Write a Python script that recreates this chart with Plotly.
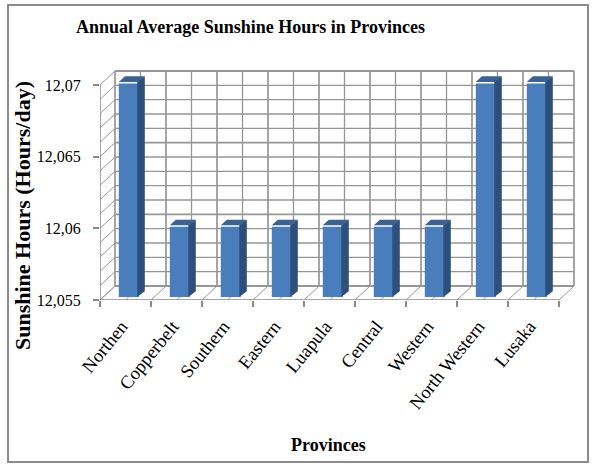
import plotly.graph_objects as go

# ---- data ----
provinces = ["Northen", "Copperbelt", "Southern", "Eastern", "Luapula",
             "Central", "Western", "North Western", "Lusaka"]
sunshine = [12.07, 12.06, 12.06, 12.06, 12.06, 12.06, 12.06, 12.07, 12.07]
y_ticks = [12.055, 12.06, 12.065, 12.07]
y_tick_text = ["12,055", "12,06", "12,065", "12,07"]

# ---- geometry (in axis units) ----
W, H = 594, 465
x_px = [100, 575]          # plot area horizontal extent (px)
y_px = [300, 69]           # plot area vertical extent (px, bottom, top)
px_per_cat = 51.0
px_per_unit = 215 / 0.015
y0 = 12.055
ymax = 12.07
x_lo = -0.5
x_hi = x_lo + (x_px[1] - x_px[0]) / px_per_cat
y_hi = y0 + (y_px[0] - y_px[1]) / px_per_unit
n = len(provinces)
dxu = 15 / px_per_cat      # depth offset to back wall
dyu = 14 / px_per_unit
f0, f1 = 0.22, 0.62        # bar front / back depth fractions
bw = 20 / px_per_cat       # bar width
eps_x = 1.5 / px_per_cat
eps_y = 1.5 / px_per_unit

grid_c = "#969696"
shapes = []
def line(xa, ya, xb, yb, color=grid_c, width=1.3):
    shapes.append(dict(type="line", xref="x", yref="y", x0=xa, y0=ya, x1=xb, y1=yb,
                       line=dict(color=color, width=width), layer="below"))

# back wall horizontal grid + left side wall diagonals
for k in range(16):
    v = y0 + k * 0.001
    major = (k % 5 == 0)
    line(x_lo + dxu, v + dyu, x_lo + n + dxu, v + dyu, width=1.8 if major else 1.3)
    line(x_lo, v, x_lo + dxu, v + dyu, width=1.0)
# back wall vertical grid + floor diagonals
for k in range(2 * n + 1):
    xv = x_lo + k * 0.5
    major = (k % 2 == 0)
    line(xv + dxu, y0 + dyu, xv + dxu, ymax + dyu, width=1.7 if major else 1.3)
    line(xv, y0, xv + dxu, y0 + dyu, width=1.0)
# front axis lines
line(x_lo, y0, x_lo, ymax, color="#8a8a8a", width=1.5)
line(x_lo, y0, x_lo + n, y0, color="#8a8a8a", width=1.5)

# outer frame
shapes.append(dict(type="rect", xref="paper", yref="paper", x0=8 / W, x1=588 / W,
                   y0=1 - 462 / H, y1=1 - 5 / H,
                   line=dict(color="#8c8c8c", width=2), layer="below"))

fig = go.Figure()

front_col = "#4a7dbc"
side_col = "#2d4f7c"
top_col = "#3a6295"

xs_front = [i + f0 * dxu for i in range(n)]
fig.add_trace(go.Bar(
    x=xs_front, y=[v + eps_y - (y0 + f0 * dyu) for v in sunshine], base=y0 + f0 * dyu,
    width=bw, marker=dict(color=front_col, line=dict(width=0)),
    showlegend=False, hoverinfo="skip"))

d = (f1 - f0)
for i, v in enumerate(sunshine):
    xl = i - bw / 2 + f0 * dxu
    xr = i + bw / 2 + f0 * dxu
    yb = y0 + f0 * dyu
    yt = v + f0 * dyu
    # side face
    fig.add_trace(go.Scatter(
        x=[xr - eps_x, xr + d * dxu, xr + d * dxu, xr - eps_x, xr - eps_x],
        y=[yb, yb + d * dyu, yt + d * dyu, yt, yb],
        fill="toself", fillcolor=side_col, mode="lines", line=dict(width=0),
        showlegend=False, hoverinfo="skip"))
    # top face
    fig.add_trace(go.Scatter(
        x=[xl, xr, xr + d * dxu, xl + d * dxu, xl],
        y=[yt, yt, yt + d * dyu, yt + d * dyu, yt],
        fill="toself", fillcolor=top_col, mode="lines", line=dict(width=0),
        showlegend=False, hoverinfo="skip"))

serif = "Liberation Serif"
fig.update_layout(
    width=W, height=H, margin=dict(l=0, r=0, t=0, b=0, autoexpand=False),
    paper_bgcolor="white", plot_bgcolor="rgba(0,0,0,0)",
    barmode="overlay", shapes=shapes, showlegend=False,
    font=dict(family=serif, color="black"),
    xaxis=dict(domain=[x_px[0] / W, x_px[1] / W], range=[x_lo, x_hi], automargin=False,
               showgrid=False, zeroline=False, showline=False,
               tickmode="array", tickvals=list(range(n)), ticktext=provinces,
               tickangle=-51, ticks="", ticklabelstandoff=11, ticklabelshift=-4,
               tickfont=dict(size=18.5, family=serif),
               minor=dict(tickmode="linear", tick0=-0.5, dtick=1, ticks="outside",
                          ticklen=6, tickcolor="#8a8a8a", tickwidth=1.5, showgrid=False)),
    yaxis=dict(domain=[1 - y_px[0] / H, 1 - y_px[1] / H], range=[y0, y_hi], automargin=False,
               showgrid=False, zeroline=False, showline=False,
               tickmode="array", tickvals=y_ticks, ticktext=y_tick_text,
               ticks="outside", ticklen=6, tickcolor="#8a8a8a", tickwidth=1.5,
               ticklabelstandoff=9, tickfont=dict(size=16, family=serif)),
    annotations=[
        dict(text="<b>Annual Average Sunshine Hours in Provinces</b>", xref="paper", yref="paper",
             x=250 / W, y=1 - 27 / H, showarrow=False, xanchor="center", yanchor="middle",
             font=dict(size=18, family=serif)),
        dict(text="<b>Sunshine Hours (Hours/day)</b>", xref="paper", yref="paper",
             x=22 / W, y=1 - 216 / H, showarrow=False, textangle=-90,
             xanchor="center", yanchor="middle", font=dict(size=22, family=serif)),
        dict(text="<b>Provinces</b>", xref="paper", yref="paper",
             x=328 / W, y=1 - 445 / H, showarrow=False, xanchor="center", yanchor="middle",
             font=dict(size=18, family=serif)),
    ],
)

fig.write_html("out.html")
